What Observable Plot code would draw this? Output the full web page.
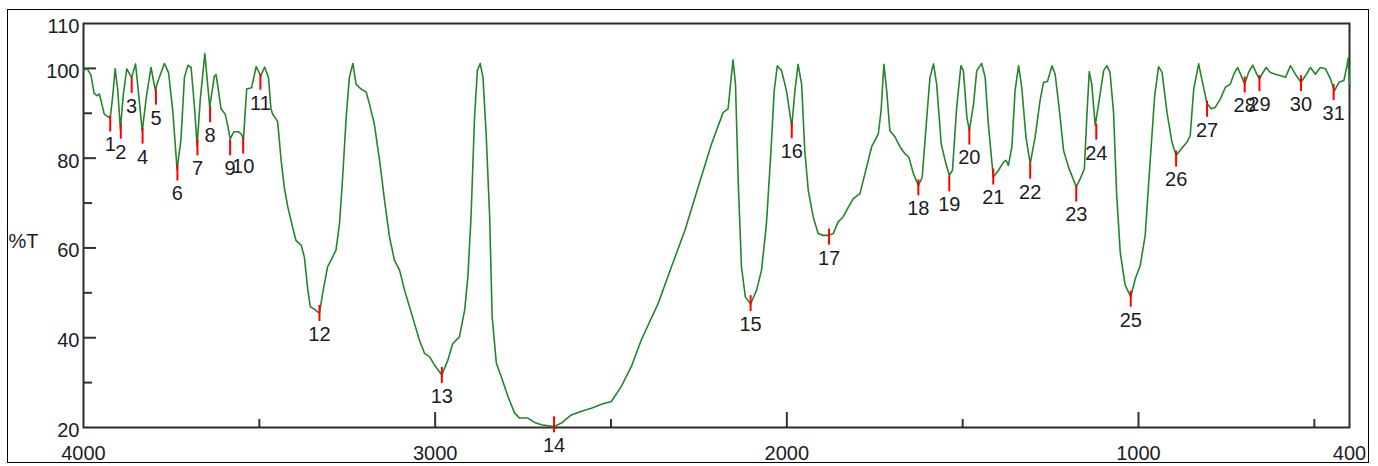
<!DOCTYPE html>
<html>
<head>
<meta charset="utf-8">
<script src="https://cdn.jsdelivr.net/npm/d3@7"></script>
<script src="https://cdn.jsdelivr.net/npm/@observablehq/plot@0.6"></script>
<style>
  html, body { margin: 0; padding: 0; background: #fff; }
  #wrap { position: relative; width: 1378px; height: 466px; }
  #outer { position: absolute; left: 7px; top: 9px; width: 1362px; height: 454px; border: 1px solid #000; box-sizing: border-box; pointer-events: none; }
  svg { display: block; }
</style>
</head>
<body>
<div id="wrap"><div id="outer"></div></div>
<script>
// Spectrum (wavenumber cm-1, %T)
const wavenumbers = [4000,3990,3979,3970,3962,3955,3949,3941,3932,3924,3917,3910,3903,3895,3887,3877,3868,3863,3852,3843,3833,3821,3808,3796,3787,3770,3758,3746,3734,3723,3713,3703,3694,3684,3677,3668,3655,3641,3628,3623,3616,3609,3597,3590,3583,3572,3560,3552,3545,3536,3522,3509,3496,3485,3474,3467,3462,3448,3438,3429,3419,3405,3396,3381,3372,3362,3355,3343,3329,3320,3306,3296,3282,3272,3263,3253,3244,3234,3225,3211,3196,3187,3173,3158,3144,3130,3116,3101,3087,3073,3059,3045,3030,3016,3002,2981,2964,2950,2931,2916,2907,2898,2888,2880,2872,2864,2855,2845,2838,2826,2812,2793,2774,2760,2736,2717,2698,2679,2662,2641,2613,2584,2556,2527,2499,2471,2442,2414,2366,2328,2290,2252,2214,2181,2167,2160,2153,2146,2138,2129,2118,2103,2086,2072,2058,2045,2036,2027,2015,2001,1986,1977,1968,1958,1949,1939,1925,1911,1897,1880,1868,1854,1840,1825,1811,1792,1778,1759,1740,1732,1724,1716,1707,1692,1678,1664,1653,1640,1626,1615,1602,1593,1583,1574,1561,1550,1538,1529,1517,1505,1498,1488,1481,1469,1460,1446,1436,1427,1413,1398,1384,1377,1370,1360,1351,1341,1332,1320,1308,1294,1280,1270,1259,1246,1237,1227,1213,1199,1177,1166,1154,1147,1140,1133,1123,1112,1099,1090,1081,1071,1062,1052,1038,1022,1009,995,981,967,954,943,933,919,905,893,878,862,853,843,829,820,805,793,782,767,753,739,729,718,708,698,687,675,666,656,649,637,625,611,597,582,568,554,538,525,511,497,483,468,454,443,430,416,407,404,400];
const transmittance = [99.6,99.9,98.6,94.5,93.9,94.3,92.5,89.8,89.3,89.0,93.7,99.9,95.5,86.5,94.0,99.9,98.6,98.0,101.0,94.1,86.0,93.8,100.2,95.2,97.4,101.1,99.0,90.4,77.5,84.0,98.0,100.7,100.2,91.0,82.8,93.0,103.3,91.3,98.3,98.6,95.0,91.0,89.8,87.3,84.3,85.9,85.9,85.4,84.3,95.4,95.7,100.4,98.3,100.3,98.0,91.0,89.8,88.2,79.5,73.5,69.1,64.5,61.7,60.6,58.0,50.6,46.9,46.3,45.4,49.9,55.8,57.3,59.5,65.4,75.8,89.1,98.0,101.1,96.5,95.4,94.7,92.1,87.6,79.5,70.6,62.5,57.3,55.0,50.6,46.9,43.2,39.5,36.5,35.8,33.9,31.7,35.0,38.7,40.2,46.2,53.6,66.9,89.1,99.5,101.1,98.0,85.4,66.9,44.7,34.3,31.3,26.9,23.2,22.1,22.1,21.1,20.6,20.4,20.2,21.0,22.8,23.6,24.3,25.2,25.8,29.1,33.6,39.5,47.6,55.8,63.9,73.6,83.2,90.2,91.0,96.5,101.9,96.5,74.3,55.8,49.1,47.5,50.6,55.0,65.4,81.7,95.0,100.6,99.5,95.0,87.0,95.0,100.9,96.5,81.7,72.8,66.9,63.2,62.8,62.8,63.2,65.8,66.9,69.1,71.0,72.1,76.5,82.5,85.4,90.6,100.9,95.0,86.1,84.7,82.5,81.0,80.2,76.5,73.9,75.8,89.1,98.0,101.0,96.5,83.2,79.5,76.2,77.3,91.3,100.6,99.5,89.1,86.2,92.1,99.5,101.1,98.0,87.6,75.8,77.3,79.1,79.5,78.4,82.5,95.0,100.6,95.8,84.7,78.8,84.7,92.8,96.9,97.1,100.6,98.7,92.1,81.7,78.0,73.6,75.4,77.6,89.1,99.3,96.5,87.3,92.8,99.5,100.6,99.1,90.2,71.7,59.1,51.7,49.1,53.2,56.1,62.8,79.1,93.9,100.4,99.1,90.2,83.6,80.6,82.1,83.6,85.0,95.4,101.0,97.6,92.1,91.0,91.3,93.2,95.8,96.5,98.7,100.2,98.4,96.5,99.1,100.7,99.1,97.6,98.7,100.2,99.1,98.7,98.4,98.0,100.6,98.7,96.9,98.4,100.2,98.7,100.2,99.9,97.6,95.0,96.9,97.3,100.6,102.3,96.5];

// Peak picks
const peakLabels = [1,2,3,4,5,6,7,8,9,10,11,12,13,14,15,16,17,18,19,20,21,22,23,24,25,26,27,28,29,30,31];
const peakWavenumbers = [3924,3894,3863,3832,3794,3733,3676,3640,3583,3546,3497,3329,2981,2662,2103,1986,1880,1626,1538,1481,1413,1308,1177,1120,1022,893,805,698,656,538,445];
const peakTransmittance = [87.6,86.0,96.2,84.9,93.6,76.7,82.3,89.7,82.3,82.7,96.9,45.4,31.6,20.6,47.6,86.1,62.4,73.4,74.3,84.7,75.8,77.1,72.0,85.8,48.6,79.8,90.9,96.3,96.6,96.6,94.6];

// Axis ticks
const xTickLabels = [4000,3000,2000,1000,400];
const xMajorTicks = [3000,2000,1000];
const xMinorTicks = [3500,2500,1500,500];
const yTickLabels = [20,40,60,80,100,110];
const yMajorTicks = [40,60,80,100];
const yMinorTicks = [30,50,70,90];
const yLabel = "%T";

const spectrum = wavenumbers.map((w, i) => ({w, t: transmittance[i]}));
const peaks = peakLabels.map((l, i) => ({label: String(l), w: peakWavenumbers[i], t: peakTransmittance[i]}));

const font = "'Liberation Sans', Arial, sans-serif";
const textColor = "#1c1c24";

const chart = Plot.plot({
  width: 1378,
  height: 466,
  marginLeft: 83,
  marginRight: 29,
  marginTop: 23,
  marginBottom: 39,
  style: {fontFamily: font, fontSize: "20px", background: "transparent", overflow: "visible"},
  x: {type: "linear", domain: [4000, 400], label: null},
  y: {type: "linear", domain: [20, 110], label: null},
  marks: [
    Plot.axisX({ticks: xMajorTicks, tickSize: -15, tickFormat: () => "", stroke: "#333", strokeWidth: 2, label: null}),
    Plot.axisX({ticks: xMinorTicks, tickSize: -8, tickFormat: () => "", stroke: "#333", strokeWidth: 2, label: null}),
    Plot.axisX({ticks: xTickLabels, tickSize: 0, tickPadding: 18, tickFormat: d => String(d), fill: textColor, fontSize: 20, label: null}),
    Plot.axisY({ticks: yMajorTicks, tickSize: -13, tickFormat: () => "", stroke: "#333", strokeWidth: 2, label: null}),
    Plot.axisY({ticks: yMinorTicks, tickSize: -9, tickFormat: () => "", stroke: "#333", strokeWidth: 2, label: null}),
    Plot.axisY({ticks: yTickLabels, tickSize: 0, tickPadding: 4, dy: 3, tickFormat: d => String(d), fill: textColor, fontSize: 20, label: null}),
    Plot.frame({stroke: "#2b2b2b", strokeWidth: 2}),
    Plot.line(spectrum, {x: "w", y: "t", stroke: "#24862a", strokeWidth: 1.6, strokeLinejoin: "round"}),
    Plot.ruleX(peaks, {x: "w", y1: "t", y2: "t", insetTop: -8, insetBottom: -8, stroke: "#ff0000", strokeWidth: 2}),
    Plot.text(peaks, {x: "w", y: "t", text: "label", dy: 21, fontSize: 20, fill: textColor}),
    Plot.text([yLabel], {frameAnchor: "left", text: d => d, textAnchor: "start", dx: -75, dy: 16, fontSize: 20, fill: textColor})
  ]
});
document.getElementById("wrap").prepend(chart);
</script>
</body>
</html>
